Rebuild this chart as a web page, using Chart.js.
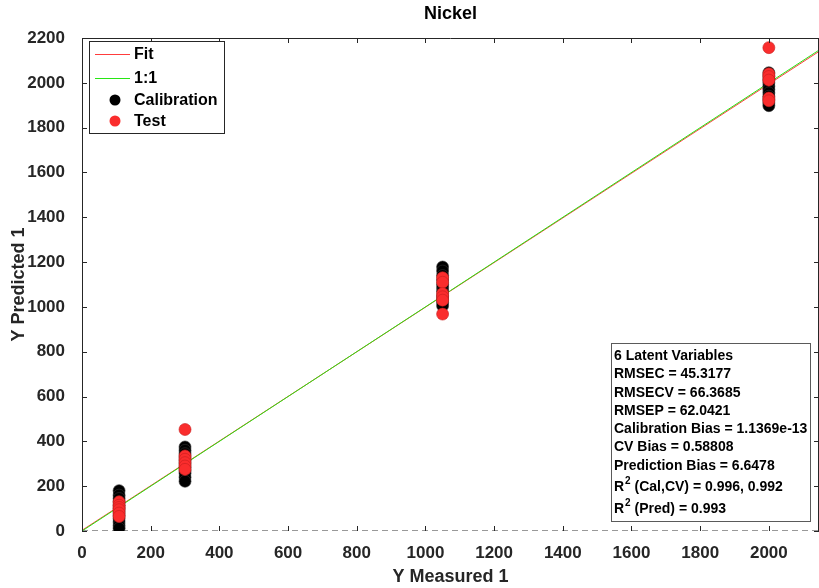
<!DOCTYPE html>
<html>
<head>
<meta charset="utf-8">
<script src="https://cdn.jsdelivr.net/npm/chart.js@4.4.1/dist/chart.umd.min.js"></script>
<style>
  html, body { margin: 0; padding: 0; background: #fff; }
  #wrap { width: 819px; height: 588px; position: relative; }
</style>
</head>
<body>
<div id="wrap"><canvas id="nickelChart"></canvas></div>
<script>
// measured / predicted values
var calMeasured = [108,108,108,108,108,108,108,108,108,108,108,108,
                   300,300,300,300,300,300,300,300,300,300,300,
                   1050,1050,1050,1050,1050,1050,1050,1050,1050,1050,1050,
                   2000,2000,2000,2000,2000,2000,2000,2000,2000,2000,2000];
var calPredicted = [180,160,145,130,115,100,85,70,55,40,25,12,
                    375,360,345,330,315,300,285,270,258,240,222,
                    1178,1160,1140,1120,1100,1085,1070,1050,1035,1020,1005,
                    2045,2030,2015,2000,1985,1970,1955,1940,1925,1910,1898];
var testMeasured = [108,108,108,108,108,108,
                    300,300,300,300,300,300,
                    1050,1050,1050,1050,1050,1050,
                    2000,2000,2000,2000,2000,2000];
var testPredicted = [130,115,105,95,80,65,
                     453,335,320,305,290,275,
                     1130,1110,1060,1045,1030,968,
                     2157,2040,2028,2012,1932,1920];
var fitX = [0, 2146];
var fitY = [3, 2140];
var oneX = [0, 2146];
var oneY = [0, 2146];
var zeroX = [0, 2146];
var zeroY = [0, 0];
var xTickValues = [0, 200, 400, 600, 800, 1000, 1200, 1400, 1600, 1800, 2000];

var statLines = [
    '6 Latent Variables',
    'RMSEC = 45.3177',
    'RMSECV = 66.3685',
    'RMSEP = 62.0421',
    'Calibration Bias = 1.1369e-13',
    'CV Bias = 0.58808',
    'Prediction Bias = 6.6478',
    ['R', '2', ' (Cal,CV) = 0.996, 0.992'],
    ['R', '2', ' (Pred) = 0.993']
];

function pairs(xs, ys) {
    return xs.map(function (x, i) { return {x: x, y: ys[i]}; });
}

var FONT = '"Liberation Sans", Arial, Helvetica, sans-serif';
var AXIS = '#262626';
var RED = 'rgb(250,45,45)';
var RED_EDGE = 'rgb(200,30,30)';

// box, inside ticks, title, legend and stats box (MATLAB look)
var matlabDecor = {
    id: 'matlabDecor',
    afterDraw: function (chart) {
        var ctx = chart.ctx;
        var a = chart.chartArea;
        var xs = chart.scales.x, ys = chart.scales.y;
        ctx.save();
        ctx.strokeStyle = AXIS;
        ctx.lineWidth = 1;
        ctx.beginPath();
        ctx.moveTo(a.left + 0.5, a.bottom);
        ctx.lineTo(a.left + 0.5, a.top + 0.5);
        ctx.lineTo(a.right - 0.5, a.top + 0.5);
        ctx.lineTo(a.right - 0.5, a.bottom);
        xs.ticks.forEach(function (t) {
            var px = Math.round(xs.getPixelForValue(t.value)) + 0.5;
            ctx.moveTo(px, a.bottom); ctx.lineTo(px, a.bottom - 5);
            ctx.moveTo(px, a.top); ctx.lineTo(px, a.top + 5);
        });
        ys.ticks.forEach(function (t) {
            var py = Math.round(ys.getPixelForValue(t.value)) + 0.5;
            ctx.moveTo(a.left, py); ctx.lineTo(a.left + 5, py);
            ctx.moveTo(a.right, py); ctx.lineTo(a.right - 5, py);
        });
        ctx.stroke();

        // title
        ctx.fillStyle = '#000';
        ctx.font = 'bold 18px ' + FONT;
        ctx.textAlign = 'center';
        ctx.textBaseline = 'middle';
        ctx.fillText('Nickel', (a.left + a.right) / 2, 14);

        // legend
        ctx.fillStyle = '#fff';
        ctx.fillRect(89.5, 41.5, 135, 92);
        ctx.strokeStyle = AXIS;
        ctx.strokeRect(89.5, 41.5, 135, 92);
        var ly = [54, 78, 100, 121];
        ctx.lineWidth = 1;
        ctx.strokeStyle = 'rgb(255,60,60)';
        ctx.beginPath(); ctx.moveTo(95, ly[0] + 0.5); ctx.lineTo(130, ly[0] + 0.5); ctx.stroke();
        ctx.strokeStyle = 'rgb(40,230,20)';
        ctx.beginPath(); ctx.moveTo(95, ly[1] + 0.5); ctx.lineTo(130, ly[1] + 0.5); ctx.stroke();
        ctx.fillStyle = '#000';
        ctx.beginPath(); ctx.arc(115, ly[2], 5.5, 0, Math.PI * 2); ctx.fill();
        ctx.fillStyle = RED;
        ctx.beginPath(); ctx.arc(115, ly[3], 5.5, 0, Math.PI * 2); ctx.fill();
        ctx.fillStyle = '#000';
        ctx.font = 'bold 16px ' + FONT;
        ctx.textAlign = 'left';
        ['Fit', '1:1', 'Calibration', 'Test'].forEach(function (s, i) {
            ctx.fillText(s, 134, ly[i] + 1);
        });

        // stats box
        ctx.fillStyle = '#fff';
        ctx.fillRect(611.5, 343.5, 199, 178);
        ctx.strokeStyle = '#5a5a5a';
        ctx.strokeRect(611.5, 343.5, 199, 178);
        var sy = [356, 374, 393, 411, 429, 447, 466, 487, 509];
        ctx.fillStyle = '#000';
        statLines.forEach(function (s, i) {
            if (typeof s === 'string') {
                ctx.font = 'bold 14px ' + FONT;
                ctx.fillText(s, 614, sy[i]);
            } else {
                ctx.font = 'bold 14px ' + FONT;
                ctx.fillText(s[0], 614, sy[i]);
                var w = ctx.measureText(s[0]).width;
                ctx.font = 'bold 10px ' + FONT;
                ctx.fillText(s[1], 614 + w + 1, sy[i] - 6);
                var w2 = ctx.measureText(s[1]).width;
                ctx.font = 'bold 14px ' + FONT;
                ctx.fillText(s[2], 614 + w + w2 + 1, sy[i]);
            }
        });
        ctx.restore();
    }
};

var ctx = document.getElementById('nickelChart');

var nickelChart = new Chart(ctx, {
    type: 'scatter',
    data: {
        datasets: [{
            label: 'Test',
            data: pairs(testMeasured, testPredicted),
            backgroundColor: RED,
            borderColor: RED_EDGE,
            borderWidth: 0.6,
            pointRadius: 6,
            order: 0
        }, {
            label: 'Calibration',
            data: pairs(calMeasured, calPredicted),
            backgroundColor: '#000',
            borderColor: '#333',
            borderWidth: 0.6,
            pointRadius: 6,
            order: 1
        }, {
            label: '1:1',
            type: 'line',
            data: pairs(oneX, oneY),
            borderColor: 'rgb(40,230,20)',
            borderWidth: 1,
            pointRadius: 0,
            order: 2
        }, {
            label: 'Fit',
            type: 'line',
            data: pairs(fitX, fitY),
            borderColor: 'rgb(255,60,60)',
            borderWidth: 1,
            pointRadius: 0,
            order: 3
        }, {
            label: 'zero',
            type: 'line',
            data: pairs(zeroX, zeroY),
            borderColor: '#333',
            borderWidth: 1,
            borderDash: [6, 4],
            pointRadius: 0,
            order: 4
        }]
    },
    options: {
        responsive: true,
        maintainAspectRatio: false,
        animation: false,
        layout: {
            autoPadding: false,
            padding: {top: 38, right: 0, left: 0, bottom: 0}
        },
        plugins: {
            legend: {display: false},
            tooltip: {enabled: false},
            title: {display: false}
        },
        scales: {
            x: {
                type: 'linear',
                min: 0,
                max: 2146,
                afterFit: function (s) { s.height = 57; },
                afterBuildTicks: function (s) {
                    s.ticks = xTickValues.map(function (v) { return {value: v}; });
                },
                grid: {display: false},
                border: {display: false},
                ticks: {
                    autoSkip: false,
                    padding: 4,
                    color: AXIS,
                    font: {family: FONT, size: 17, weight: 'bold'},
                    maxRotation: 0,
                    callback: function (v) { return String(v); }
                },
                title: {
                    display: true,
                    text: 'Y Measured 1',
                    color: AXIS,
                    padding: {top: 0, bottom: 0},
                    font: {family: FONT, size: 18, weight: 'bold'}
                }
            },
            y: {
                type: 'linear',
                min: 0,
                max: 2200,
                afterFit: function (s) { s.width = 82; },
                grid: {display: false},
                border: {display: false},
                ticks: {
                    stepSize: 200,
                    autoSkip: false,
                    padding: 9,
                    color: AXIS,
                    font: {family: FONT, size: 17, weight: 'bold'},
                    callback: function (v) { return String(v); }
                },
                title: {
                    display: true,
                    text: 'Y Predicted 1',
                    color: AXIS,
                    padding: {top: 8, bottom: 2},
                    font: {family: FONT, size: 18, weight: 'bold'}
                }
            }
        }
    },
    plugins: [matlabDecor]
});
</script>
</body>
</html>
